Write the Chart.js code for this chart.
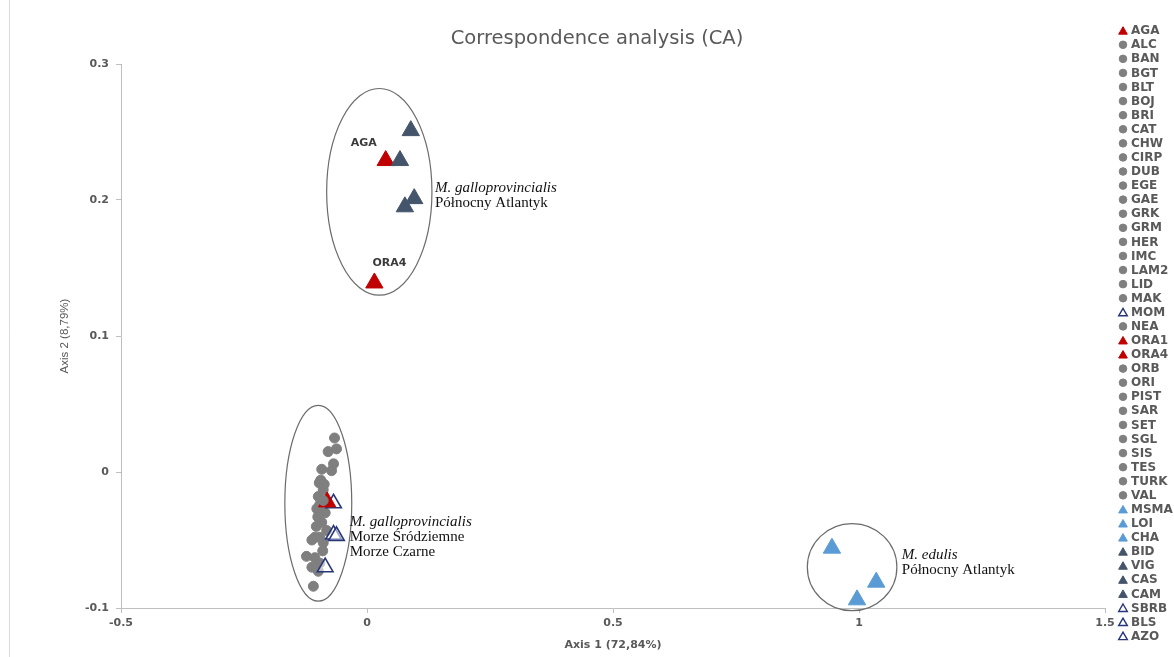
<!DOCTYPE html>
<html>
<head>
<meta charset="utf-8">
<title>Correspondence analysis (CA)</title>
<script src="https://cdn.jsdelivr.net/npm/chart.js@4/dist/chart.umd.min.js"></script>
<style>
  html, body { margin: 0; padding: 0; background: #ffffff; }
  #wrap { width: 1174px; height: 657px; position: relative; }
</style>
</head>
<body>
<div id="wrap"><canvas id="ca"></canvas></div>
<script>
// Sampling sites, in legend order
const sites = ['AGA','ALC','BAN','BGT','BLT','BOJ','BRI','CAT','CHW','CIRP','DUB','EGE','GAE','GRK','GRM',
  'HER','IMC','LAM2','LID','MAK','MOM','NEA','ORA1','ORA4','ORB','ORI','PIST','SAR','SET','SGL','SIS','TES',
  'TURK','VAL','MSMA','LOI','CHA','BID','VIG','CAS','CAM','SBRB','BLS','AZO'];

// Population group of each site
const siteGroups = ['mixed','med','med','med','med','med','med','med','med','med','med','med','med','med','med',
  'med','med','med','med','med','medOpen','med','mixed','mixed','med','med','med','med','med','med','med','med',
  'med','med','edulis','edulis','edulis','atl','atl','atl','atl','medOpen','medOpen','medOpen'];

// Site scores on axis 1 (72,84%)
const axis1 = [0.038,-0.066,-0.079,-0.062,-0.068,-0.092,-0.072,-0.097,-0.089,-0.099,-0.096,-0.102,-0.085,-0.092,-0.106,
  -0.096,-0.082,-0.112,-0.123,-0.106,-0.068,-0.096,-0.081,0.015,-0.112,-0.099,-0.109,-0.089,-0.089,-0.094,-0.100,-0.090,
  -0.103,-0.087,0.945,1.035,0.996,0.089,0.067,0.096,0.077,-0.068,-0.062,-0.085];

// Site scores on axis 2 (8,79%)
const axis2 = [0.229,0.025,0.015,0.017,0.006,0.002,0.001,-0.008,-0.013,-0.018,-0.024,-0.027,-0.030,-0.037,-0.048,
  -0.048,-0.043,-0.050,-0.062,-0.063,-0.023,-0.067,-0.022,0.139,-0.070,-0.073,-0.084,-0.021,-0.052,-0.006,-0.033,-0.058,
  -0.040,-0.009,-0.056,-0.081,-0.094,0.251,0.229,0.201,0.195,-0.046,-0.047,-0.070];

// Axis tick values
const xTicks = [-0.5, 0, 0.5, 1, 1.5];
const yTicks = [-0.1, 0, 0.1, 0.2, 0.3];

// Sites whose code is written next to the marker
const labelledSites = ['AGA', 'ORA4'];

// Outlines around the three clusters (centre and half-axes in axis units)
const clusterOutlines = [
  { cx: 0.025, cy: 0.206, rx: 0.107, ry: 0.076 },
  { cx: -0.099, cy: -0.023, rx: 0.068, ry: 0.072 },
  { cx: 0.986, cy: -0.070, rx: 0.091, ry: 0.032 }
];

// Cluster captions
const clusterCaptions = [
  { x: 0.138, y: 0.209, lines: [['M. galloprovincialis', true], ['Północny Atlantyk', false]] },
  { x: -0.035, y: -0.0365, lines: [['M. galloprovincialis', true], ['Morze Śródziemne', false], ['Morze Czarne', false]] },
  { x: 1.087, y: -0.061, lines: [['M. edulis', true], ['Północny Atlantyk', false]] }
];

const chartTitle = 'Correspondence analysis (CA)';

const GREY_TEXT = '#595959';
const groupStyle = {
  mixed:   { pointStyle: 'triangle', radius: 10, bg: '#c00000', border: '#c00000', bw: 1 },
  med:     { pointStyle: 'circle',   radius: 5,  bg: '#7f7f7f', border: '#7f7f7f', bw: 1 },
  medOpen: { pointStyle: 'triangle', radius: 9,  bg: 'rgba(255,255,255,0.55)', border: '#27367a', bw: 1.6 },
  edulis:  { pointStyle: 'triangle', radius: 10, bg: '#5b9bd5', border: '#5b9bd5', bw: 1 },
  atl:     { pointStyle: 'triangle', radius: 10, bg: '#44546a', border: '#44546a', bw: 1 }
};

const datasets = sites.map((code, i) => {
  const s = groupStyle[siteGroups[i]];
  return {
    label: code,
    data: [{ x: axis1[i], y: axis2[i] }],
    pointStyle: s.pointStyle,
    pointRadius: s.radius,
    pointHoverRadius: s.radius,
    backgroundColor: s.bg,
    borderColor: s.border,
    pointBorderWidth: s.bw,
    order: sites.length - i,
    clip: false
  };
});

const round1 = v => String(Math.round(v * 10) / 10);

// Frame line, title, cluster outlines, captions and the site list on the right
const decorations = {
  id: 'decorations',
  beforeDatasetsDraw(chart) {
    const { ctx, scales: { x, y } } = chart;
    ctx.save();
    ctx.strokeStyle = '#d9d9d9';
    ctx.lineWidth = 1;
    ctx.beginPath();
    ctx.moveTo(9.5, 0);
    ctx.lineTo(9.5, chart.height);
    ctx.stroke();

    ctx.fillStyle = GREY_TEXT;
    ctx.font = '19.5px "DejaVu Sans", sans-serif';
    ctx.textAlign = 'center';
    ctx.textBaseline = 'middle';
    ctx.fillText(chartTitle, 597, 39);

    ctx.strokeStyle = '#6b6b6b';
    ctx.lineWidth = 1.2;
    clusterOutlines.forEach(o => {
      const cx = x.getPixelForValue(o.cx);
      const cy = y.getPixelForValue(o.cy);
      const rx = Math.abs(x.getPixelForValue(o.cx + o.rx) - cx);
      const ry = Math.abs(y.getPixelForValue(o.cy + o.ry) - cy);
      ctx.beginPath();
      ctx.ellipse(cx, cy, rx, ry, 0, 0, Math.PI * 2);
      ctx.stroke();
    });
    ctx.restore();
  },
  afterDraw(chart) {
    const { ctx, scales: { x, y } } = chart;
    ctx.save();

    // captions
    ctx.fillStyle = '#111111';
    ctx.textBaseline = 'middle';
    ctx.textAlign = 'left';
    clusterCaptions.forEach(c => {
      const px = x.getPixelForValue(c.x);
      const py = y.getPixelForValue(c.y);
      c.lines.forEach((ln, k) => {
        ctx.font = (ln[1] ? 'italic ' : '') + '15px "Liberation Serif", "Times New Roman", serif';
        ctx.fillText(ln[0], px, py + k * 15.2);
      });
    });

    // site codes next to markers
    ctx.font = 'bold 11px "DejaVu Sans", sans-serif';
    ctx.fillStyle = '#3a3a3a';
    ctx.textAlign = 'center';
    labelledSites.forEach(code => {
      const i = sites.indexOf(code);
      const el = chart.getDatasetMeta(i).data[0];
      if (code === 'AGA') ctx.fillText(code, el.x - 22, el.y - 17);
      else ctx.fillText(code, el.x + 15, el.y - 19.5);
    });

    // site list
    ctx.textAlign = 'left';
    ctx.font = 'bold 12px "DejaVu Sans", sans-serif';
    const top = 30.7, step = 14.08, mx = 1123, tx = 1131;
    chart.data.datasets.forEach((ds, i) => {
      const cy = top + i * step;
      const s = groupStyle[siteGroups[i]];
      const isDot = s.pointStyle === 'circle';
      ctx.fillStyle = siteGroups[i] === 'medOpen' ? '#ffffff' : s.bg;
      ctx.strokeStyle = s.border;
      ctx.lineWidth = siteGroups[i] === 'medOpen' ? 1.4 : 1;
      Chart.helpers.drawPoint(ctx, {
        pointStyle: s.pointStyle,
        radius: isDot ? 3.8 : 5,
        rotation: 0,
        borderWidth: ctx.lineWidth
      }, mx, isDot ? cy : cy + 1);
      ctx.fillStyle = GREY_TEXT;
      ctx.fillText(ds.label, tx, cy + 0.5);
    });
    ctx.restore();
  }
};

new Chart(document.getElementById('ca'), {
  type: 'scatter',
  data: { datasets },
  options: {
    responsive: true,
    maintainAspectRatio: false,
    animation: false,
    events: [],
    layout: { padding: { left: 0, right: 69, top: 64, bottom: 0 } },
    plugins: {
      legend: { display: false },
      tooltip: { enabled: false },
      title: { display: false }
    },
    scales: {
      x: {
        type: 'linear',
        min: xTicks[0],
        max: xTicks[xTicks.length - 1],
        afterBuildTicks: s => { s.ticks = xTicks.map(v => ({ value: v })); },
        afterFit: s => { s.height = 49; },
        ticks: {
          callback: round1,
          color: GREY_TEXT,
          padding: 4,
          maxRotation: 0,
          font: { family: '"DejaVu Sans", sans-serif', size: 11, weight: 'bold' }
        },
        grid: { display: true, drawOnChartArea: false, drawTicks: true, tickLength: 5, color: '#bfbfbf' },
        border: { display: true, color: '#bfbfbf', width: 1 },
        title: {
          display: true,
          text: 'Axis 1 (72,84%)',
          color: GREY_TEXT,
          font: { family: '"DejaVu Sans", sans-serif', size: 11, weight: 'bold' },
          padding: { top: 0, bottom: 5.4 }
        }
      },
      y: {
        type: 'linear',
        min: yTicks[0],
        max: yTicks[yTicks.length - 1],
        afterBuildTicks: s => { s.ticks = yTicks.map(v => ({ value: v })); },
        afterFit: s => { s.width = 121; },
        ticks: {
          callback: round1,
          color: GREY_TEXT,
          padding: 7,
          font: { family: '"DejaVu Sans", sans-serif', size: 11, weight: 'bold' }
        },
        grid: { display: true, drawOnChartArea: false, drawTicks: true, tickLength: 5, color: '#bfbfbf' },
        border: { display: true, color: '#bfbfbf', width: 1 },
        title: {
          display: true,
          text: 'Axis 2 (8,79%)',
          color: GREY_TEXT,
          font: { family: '"Liberation Sans", Arial, sans-serif', size: 11.5, weight: 'normal' },
          padding: { top: 58, bottom: 0 }
        }
      }
    }
  },
  plugins: [decorations]
});
</script>
</body>
</html>
